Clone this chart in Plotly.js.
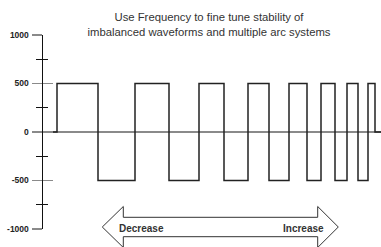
<!DOCTYPE html>
<html>
<head>
<meta charset="utf-8">
<script src="https://cdn.plot.ly/plotly-3.0.1.min.js"></script>
<style>html,body{margin:0;padding:0;background:#fff;}#chart{width:381px;height:247px;}</style>
</head>
<body>
<div id="chart"></div>
<script>
// Square wave with increasing frequency (time in arbitrary units)
const switchTimes = [0, 14, 55, 92, 126, 156, 181, 205, 226, 246, 264, 278, 292, 304, 315, 325, 332, 338];
const levels      = [0, 500, -500, 500, -500, 500, -500, 500, -500, 500, -500, 500, -500, 500, -500, 500, 0, 0];
const yTickVals = [-1000, -500, 0, 500, 1000];
const yTickText = ["-1000", "-500", "0", "500", "1000"];
const titleText = "Use Frequency to fine tune stability of<br>imbalanced waveforms and multiple arc systems";
const arrowLabels = ["Decrease", "Increase"];

const W = 381, H = 247, L = 43, T = 35, B = 18, R = 0;
const pw = W - L - R, ph = H - T - B;
const px = x => (x - L) / pw;
const py = y => (H - B - y) / ph;

const pts = [[102.3,227],[123.3,206.5],[123.3,217.3],[317.7,217.3],[317.7,206.5],[338.3,227],[317.7,247.5],[317.7,236.7],[123.3,236.7],[123.3,247.5]];
const path = pts.map((p,i)=> (i===0?'M':'L') + px(p[0]).toFixed(4) + ',' + py(p[1]).toFixed(4)).join(' ') + ' Z';

const traces = [
  {x: switchTimes, y: levels, type: 'scatter', mode: 'lines', line: {shape: 'hv', color: '#222', width: 1.5}, hoverinfo: 'skip', showlegend: false},
  {x: [null], y: [null], yaxis: 'y2', type: 'scatter', mode: 'lines', hoverinfo: 'skip', showlegend: false}
];

const font = {family: 'Liberation Sans, Arial, sans-serif'};
const layout = {
  width: W, height: H,
  margin: {l: L, r: R, t: T, b: B, pad: 0},
  paper_bgcolor: '#fff', plot_bgcolor: '#fff',
  showlegend: false,
  title: {text: titleText, font: {family: font.family, size: 11.3, color: '#333'}, x: 209/W, xanchor: 'center', y: 1 - 21/H, yanchor: 'middle'},
  xaxis: {range: [0, 338], visible: false, fixedrange: true},
  yaxis: {range: [-1000, 1000], tickvals: yTickVals, ticktext: yTickText, ticks: 'outside', ticklen: 10, tickwidth: 1.5, tickcolor: '#8a8a8a',
          showline: true, linecolor: '#111', linewidth: 1.5, showgrid: false,
          zeroline: true, zerolinecolor: '#8a8a8a', zerolinewidth: 1.5,
          tickfont: {family: font.family, size: 8.5, color: '#222', weight: 'bold'}, ticklabelstandoff: 1,
          minor: {dtick: 250, ticks: 'outside', ticklen: 6, tickwidth: 1, tickcolor: '#111'}, fixedrange: true},
  yaxis2: {range: [-1000, 1000], overlaying: 'y', side: 'left', tickvals: yTickVals, ticks: 'inside', ticklen: 10, tickwidth: 1.5, tickcolor: '#8a8a8a',
           showticklabels: false, showline: false, showgrid: false, zeroline: false,
           minor: {dtick: 250, ticks: 'inside', ticklen: 5, tickwidth: 1, tickcolor: '#111'}, fixedrange: true},
  shapes: [{type: 'path', xref: 'paper', yref: 'paper', path: path, line: {color: '#333', width: 1}, fillcolor: '#fff', layer: 'above'}],
  annotations: [
    {text: arrowLabels[0], xref: 'paper', yref: 'paper', x: px(116.5), y: py(228), xanchor: 'left', yanchor: 'middle', showarrow: false,
     font: {family: font.family, size: 10, color: '#333', weight: 'bold'}},
    {text: arrowLabels[1], xref: 'paper', yref: 'paper', x: px(326), y: py(228), xanchor: 'right', yanchor: 'middle', showarrow: false,
     font: {family: font.family, size: 10, color: '#333', weight: 'bold'}}
  ]
};
Plotly.newPlot('chart', traces, layout, {staticPlot: true, displayModeBar: false});
</script>
</body>
</html>
